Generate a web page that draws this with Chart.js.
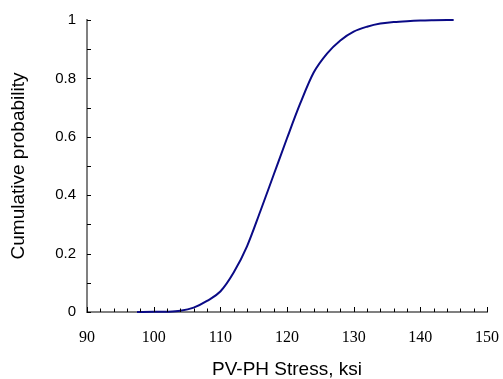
<!DOCTYPE html>
<html>
<head>
<meta charset="utf-8">
<script src="https://cdn.jsdelivr.net/npm/chart.js@4.4.0/dist/chart.umd.min.js"></script>
<style>
  html, body { margin: 0; padding: 0; background: #fff; }
  canvas { display: block; }
</style>
</head>
<body>
<canvas id="cdf" width="503" height="379"></canvas>
<script>
// values
const stressKsi = [97.5, 100, 102, 104, 106, 108, 110, 112, 114, 116, 118, 120, 122, 124, 126, 128, 130, 132, 134, 136, 138, 140, 142, 145];
const cumProb = [0, 0.0005, 0.001, 0.004, 0.015, 0.038, 0.07, 0.135, 0.225, 0.345, 0.47, 0.595, 0.715, 0.82, 0.885, 0.93, 0.96, 0.977, 0.988, 0.993, 0.996, 0.998, 0.999, 1.0];

const xMin = 90, xMax = 150, xStep = 10, xMinorStep = 2;
const yMin = 0, yMax = 1, yStep = 0.2, yMinorStep = 0.1;

const points = stressKsi.map((x, i) => ({ x, y: cumProb[i] }));

// Excel-style short tick marks pointing into the plot
const innerTicks = {
    id: "innerTicks",
    afterDatasetsDraw(chart) {
        const { ctx, scales: { x, y } } = chart;
        ctx.save();
        ctx.strokeStyle = "#000";
        ctx.lineWidth = 1;
        ctx.beginPath();
        const nx = Math.round((xMax - xMin) / xMinorStep);
        for (let i = 0; i <= nx; i++) {
            const v = xMin + i * xMinorStep;
            const px = Math.round(x.getPixelForValue(v)) + 0.5;
            const len = v % xStep === 0 ? 5 : 3.5;
            ctx.moveTo(px, y.bottom);
            ctx.lineTo(px, y.bottom - len);
        }
        const ny = Math.round((yMax - yMin) / yMinorStep);
        for (let i = 0; i <= ny; i++) {
            const py = Math.round(y.getPixelForValue(yMin + i * yMinorStep)) + 0.5;
            ctx.moveTo(x.left, py);
            ctx.lineTo(x.left + 4, py);
        }
        ctx.stroke();
        ctx.restore();
    }
};

new Chart(document.getElementById("cdf"), {
    type: "scatter",
    data: {
        datasets: [
            {
                data: points,
                showLine: true,
                borderColor: "#0a0a86",
                borderWidth: 2,
                pointRadius: 0,
                cubicInterpolationMode: "monotone",
                clip: false
            }
        ]
    },
    options: {
        responsive: false,
        animation: false,
        layout: { padding: { left: 0, top: 16, right: 0, bottom: 0 } },
        plugins: {
            legend: { display: false },
            tooltip: { enabled: false }
        },
        scales: {
            x: {
                type: "linear",
                min: xMin,
                max: xMax,
                grid: { display: false, drawTicks: false },
                border: { display: true, color: "#808080", width: 2 },
                ticks: {
                    stepSize: xStep,
                    color: "#000",
                    padding: 16,
                    font: { family: "'Liberation Serif', 'Times New Roman', serif", size: 16 }
                },
                title: {
                    display: true,
                    text: "PV-PH Stress, ksi",
                    color: "#000",
                    font: { family: "'Liberation Sans', Arial, sans-serif", size: 19, lineHeight: 1 },
                    padding: { top: 0, bottom: 0 }
                },
                afterFit(scale) {
                    scale.height = 67;
                    scale.paddingLeft = 0;
                    scale.paddingRight = 16;
                }
            },
            y: {
                min: yMin,
                max: yMax,
                grid: { display: false, drawTicks: false },
                border: { display: true, color: "#808080", width: 2 },
                ticks: {
                    stepSize: yStep,
                    color: "#000",
                    padding: 11,
                    font: { family: "'Liberation Sans', Arial, sans-serif", size: 15 },
                    callback: (v) => String(Number(v.toFixed(1)))
                },
                title: {
                    display: true,
                    text: "Cumulative probability",
                    color: "#000",
                    font: { family: "'Liberation Sans', Arial, sans-serif", size: 19, lineHeight: 1.2 },
                    padding: { top: 7, bottom: 0 }
                },
                afterFit(scale) { scale.width = 87; }
            }
        }
    },
    plugins: [innerTicks]
});
</script>
</body>
</html>
